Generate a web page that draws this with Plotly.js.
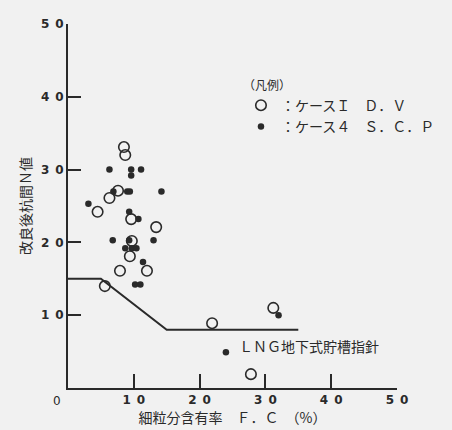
<!DOCTYPE html>
<html>
<head>
<meta charset="utf-8">
<script src="https://cdn.plot.ly/plotly-3.0.1.min.js"></script>
<style>html,body{margin:0;padding:0;background:#f1f1f1;}#chart{width:452px;height:430px;}</style>
</head>
<body>
<div id="chart"></div>
<script>
// Case 1 D.V (open circles)
const dvX = [4.5, 6.3, 7.6, 8.5, 8.7, 9.6, 9.7, 9.4, 13.4, 7.9, 12.0, 5.6, 21.9, 31.2, 27.8];
const dvY = [24.2, 26.1, 27.1, 33.1, 32.0, 23.2, 20.2, 18.1, 22.1, 16.1, 16.1, 14.0, 8.9, 11.0, 1.9];
// Case 4 S.C.P (filled dots)
const scpX = [6.3, 9.6, 9.6, 11.1, 6.9, 9.0, 9.4, 14.2, 3.1, 9.3, 10.7, 6.8, 9.3, 13.0, 8.7, 9.7, 10.4, 11.4, 10.2, 11.0, 32.0, 24.0];
const scpY = [30.0, 30.0, 29.2, 30.0, 27.0, 27.0, 27.0, 27.0, 25.3, 24.2, 23.2, 20.3, 20.3, 20.3, 19.2, 19.2, 19.2, 17.3, 14.2, 14.2, 10.0, 4.9];
// LNG guideline
const guideX = [0, 5, 15, 35];
const guideY = [15, 15, 8, 8];
// Ticks
const tickVals = [10, 20, 30, 40, 50];
const tickText = ['1\u20020', '2\u20020', '3\u20020', '4\u20020', '5\u20020'];

const ink = '#2a2a2a';
const jp = 'Noto Sans CJK JP, Noto Sans, sans-serif';
const num = 'DejaVu Sans, sans-serif';
const M = {l: 68, r: 15, t: 24, b: 42};
const plotW = 452 - M.l - M.r, plotH = 430 - M.t - M.b;

const traces = [
  {x: guideX, y: guideY, mode: 'lines', line: {color: ink, width: 2}, hoverinfo: 'skip', showlegend: false},
  {x: dvX, y: dvY, mode: 'markers', name: '：ケースＩ　Ｄ．Ｖ',
   marker: {symbol: 'circle-open', size: 10.5, color: ink, line: {width: 1.6, color: ink}}},
  {x: scpX, y: scpY, mode: 'markers', name: '：ケース４　Ｓ．Ｃ．Ｐ',
   marker: {symbol: 'circle', size: 6.5, color: ink}}
];

const layout = {
  width: 452, height: 430,
  margin: M,
  paper_bgcolor: '#f1f1f1', plot_bgcolor: '#f1f1f1',
  showlegend: true,
  legend: {
    x: (262 - M.l) / plotW, y: 1 - (74 - M.t) / plotH, xanchor: 'left', yanchor: 'top',
    bgcolor: 'rgba(0,0,0,0)', traceorder: 'normal', itemwidth: 30,
    font: {family: jp, size: 14, color: ink},
    title: {text: '（凡例）', side: 'top', font: {family: jp, size: 12, color: ink}}
  },
  font: {family: jp, color: ink},
  xaxis: {
    range: [0, 50], showgrid: false, zeroline: false,
    showline: true, linecolor: ink, linewidth: 2,
    ticks: 'inside', ticklen: 14, tickwidth: 2, tickcolor: ink,
    tickvals: tickVals, ticktext: tickText,
    tickfont: {family: num, size: 12, color: ink, weight: 700},
    title: {text: '細粒分含有率　Ｆ．Ｃ　（%）', font: {family: jp, size: 14, color: ink}, standoff: 4}
  },
  yaxis: {
    range: [0, 50], showgrid: false, zeroline: false,
    showline: true, linecolor: ink, linewidth: 2,
    ticks: 'inside', ticklen: 13, tickwidth: 2, tickcolor: ink,
    tickvals: tickVals, ticktext: tickText,
    tickfont: {family: num, size: 12, color: ink, weight: 700},
    title: {text: '改良後杭間Ｎ値', font: {family: jp, size: 14, color: ink}, standoff: 6}
  },
  annotations: [
    {x: 0, y: 0, xref: 'x', yref: 'y', text: '0', showarrow: false, xanchor: 'right', yanchor: 'top', xshift: -5, yshift: -4,
     font: {family: num, size: 12, color: ink}},
    {x: 25.7, y: 5.8, xref: 'x', yref: 'y', text: 'ＬＮＧ地下式貯槽指針', showarrow: false, xanchor: 'left', yanchor: 'middle',
     font: {family: jp, size: 14, color: ink}}
  ]
};

Plotly.newPlot('chart', traces, layout, {displayModeBar: false, staticPlot: true});
</script>
</body>
</html>
